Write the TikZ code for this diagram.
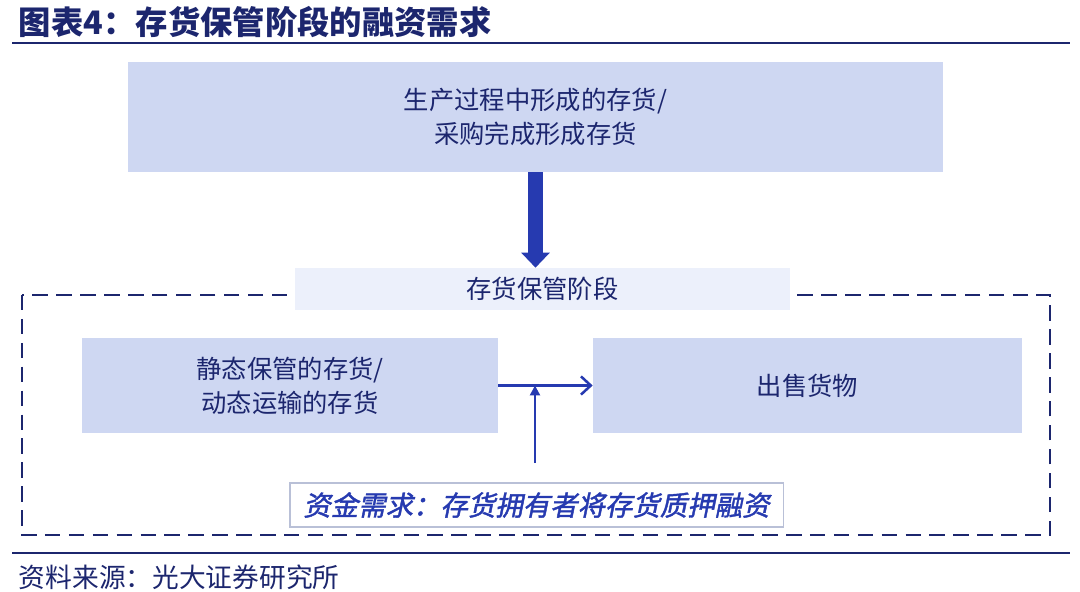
\documentclass[tikz,border=0pt]{standalone}
\usepackage{fontspec}
\usepackage{tikz}
\usetikzlibrary{arrows.meta}
\setmainfont{Noto Sans CJK SC}
\newfontfamily\cjkslant{Noto Sans CJK SC}[FakeSlant=0.2,FakeBold=1.5]
\definecolor{navyblue}{RGB}{28,38,110}
\definecolor{boxblue}{RGB}{206,215,242}
\definecolor{paleblue}{RGB}{236,240,251}
\definecolor{arrowblue}{RGB}{38,58,176}
\definecolor{edgegray}{RGB}{185,192,215}

\begin{document}
\begin{tikzpicture}[x=0.025cm,y=-0.025cm,
    stepbox/.style={fill=boxblue, text=navyblue, align=center, inner sep=0pt,
        font=\fontsize{18}{24}\selectfont},
    stagelabel/.style={fill=paleblue, text=navyblue, inner sep=0pt,
        font=\fontsize{18}{20}\selectfont},
    needbox/.style={fill=white, draw=edgegray, line width=0.8pt, text=arrowblue,
        inner sep=0pt, font=\cjkslant\fontsize{19.5}{22}\selectfont},
    rule/.style={draw=navyblue, line width=1.4pt}]

\useasboundingbox (0,0) rectangle (1080,592);

% Title
\node[anchor=west, text=navyblue, font=\bfseries\fontsize{23}{26}\selectfont] (title) at (14,22) {图表4：存货保管阶段的融资需求};
\draw[rule] (12,43) -- (1070,43);

% Top box
\node[stepbox, minimum width=20.375cm, minimum height=2.75cm] (made) at (535.5,117)
    {生产过程中形成的存货/\\采购完成形成存货};

% Dashed stage frame
\draw[navyblue, line width=1.4pt, dash pattern=on 11pt off 6pt] (22,295) rectangle (1050,535);
\node[stagelabel, minimum width=12.375cm, minimum height=1.05cm] (stage) at (542.5,289) {存货保管阶段};

% Thick arrow
\draw[arrowblue, line width=0.38cm, -{Triangle[width=0.7cm, length=0.38cm]}] (made.south) -- (made.south |- stage.north);

% Boxes inside the stage
\node[stepbox, minimum width=10.4cm, minimum height=2.375cm] (hold) at (290,385.5)
    {静态保管的存货/\\动态运输的存货};
\node[stepbox, minimum width=10.725cm, minimum height=2.375cm] (sell) at (807.5,385.5) {出售货物};
\node[needbox, minimum width=12.325cm, minimum height=1.1cm] (need) at (536.5,505)
    {资金需求：存货拥有者将存货质押融资};

% Arrows
\draw[arrowblue, line width=1.8pt, -{Straight Barb[length=7pt, width=13pt]}] (hold.east) -- (sell.west);
\coordinate (fundtop) at (535,463);
\draw[arrowblue, line width=1.8pt, -{Triangle[width=7pt, length=7pt]}] (fundtop) -- (fundtop |- hold.east);

% Source
\draw[rule] (12,553) -- (1070,553);
\node[anchor=west, text=navyblue, font=\fontsize{19}{22}\selectfont] (source) at (14,577) {资料来源：光大证券研究所};

\end{tikzpicture}
\end{document}
